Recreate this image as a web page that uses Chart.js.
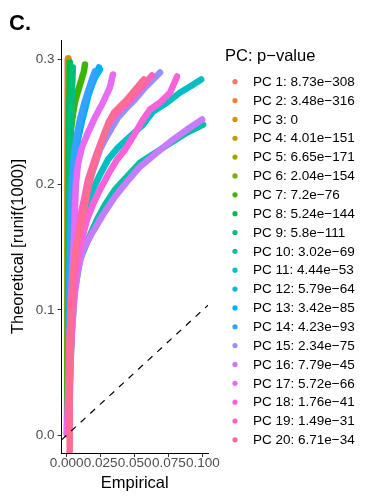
<!DOCTYPE html>
<html>
<head>
<meta charset="utf-8">
<script src="https://cdn.jsdelivr.net/npm/chart.js@4.4.1/dist/chart.umd.min.js"></script>
<style>
  html, body { margin: 0; padding: 0; background: #fff; }
  #wrap { width: 368px; height: 499px; }
</style>
</head>
<body>
<div id="wrap"><canvas id="qqChart" width="368" height="499"></canvas></div>
<script>
/* ================= DATA ================= */
const pcNames = ["PC 1", "PC 2", "PC 3", "PC 4", "PC 5", "PC 6", "PC 7", "PC 8", "PC 9", "PC 10",
  "PC 11", "PC 12", "PC 13", "PC 14", "PC 15", "PC 16", "PC 17", "PC 18", "PC 19", "PC 20"];
const pValues = ["8.73e\u2212308", "3.48e\u2212316", "0", "4.01e\u2212151", "6.65e\u2212171",
  "2.04e\u2212154", "7.2e\u221276", "5.24e\u2212144", "5.8e\u2212111", "3.02e\u221269",
  "4.44e\u221253", "5.79e\u221264", "3.42e\u221285", "4.23e\u221293", "2.34e\u221275",
  "7.79e\u221245", "5.72e\u221266", "1.76e\u221241", "1.49e\u221231", "6.71e\u221234"];

// empirical (x) and theoretical (y) quantiles, one row per PC
const empirical = [
  [0.0004, 0.0006, 0.0008, 0.0010],
  [0.0004, 0.0006, 0.0009, 0.0012],
  [0.0005, 0.0007, 0.0010, 0.0013],
  [0.0005, 0.0008, 0.0011, 0.0014],
  [0.0005, 0.0008, 0.0012, 0.0016],
  [0.0006, 0.0009, 0.0013, 0.0018],
  [0.0002, 0.0010, 0.0017, 0.0024, 0.0032, 0.0046, 0.0061, 0.0083, 0.0105, 0.0127, 0.0135],
  [0.0010, 0.0013, 0.0017, 0.0020, 0.0024],
  [0.0010, 0.0017, 0.0024, 0.0032, 0.0039, 0.0046],
  [0.0010, 0.0024, 0.0039, 0.0061, 0.0098, 0.0157, 0.0223, 0.0282, 0.0355, 0.0443, 0.0539, 0.0686, 0.0884, 0.1002],
  [0.0010, 0.0017, 0.0032, 0.0046, 0.0068, 0.0098, 0.0149, 0.0193, 0.0245, 0.0304, 0.0377, 0.0465, 0.0561, 0.0635, 0.0738, 0.0833, 0.0907, 0.0988],
  [0.0010, 0.0017, 0.0032, 0.0046, 0.0068, 0.0098, 0.0135, 0.0171, 0.0208, 0.0245],
  [0.0010, 0.0017, 0.0032, 0.0046, 0.0061, 0.0083, 0.0112, 0.0135, 0.0157, 0.0186, 0.0215, 0.0237],
  [0.0010, 0.0024, 0.0032, 0.0039, 0.0054, 0.0076, 0.0098, 0.0127, 0.0157, 0.0186, 0.0208],
  [0.0010, 0.0024, 0.0039, 0.0061, 0.0083, 0.0112, 0.0142, 0.0171, 0.0208, 0.0245, 0.0282, 0.0333, 0.0377, 0.0429, 0.0502, 0.0576, 0.0635, 0.0686],
  [0.0017, 0.0032, 0.0054, 0.0083, 0.0120, 0.0193, 0.0267, 0.0355, 0.0443, 0.0539, 0.0664, 0.0782, 0.0884, 0.0995],
  [0.0002, 0.0010, 0.0024, 0.0039, 0.0054, 0.0061, 0.0068, 0.0083, 0.0112, 0.0157, 0.0208, 0.0267, 0.0318, 0.0340],
  [0.0017, 0.0024, 0.0039, 0.0061, 0.0083, 0.0112, 0.0149, 0.0193, 0.0245, 0.0304, 0.0370, 0.0429, 0.0488, 0.0561, 0.0612, 0.0686, 0.0760, 0.0811],
  [0.0017, 0.0024, 0.0039, 0.0054, 0.0068, 0.0090, 0.0112, 0.0135, 0.0157, 0.0193, 0.0223, 0.0260, 0.0296, 0.0340, 0.0392, 0.0451, 0.0517, 0.0576, 0.0627],
  [0.0021, 0.0021, 0.0024, 0.0032, 0.0043, 0.0054, 0.0068, 0.0090, 0.0112, 0.0135, 0.0157, 0.0186, 0.0208, 0.0237, 0.0279, 0.0311, 0.0348, 0.0392, 0.0443, 0.0517, 0.0568]
];
const theoretical = [
  [0.001, 0.1, 0.2, 0.300],
  [0.001, 0.1, 0.2, 0.301],
  [0.001, 0.1, 0.2, 0.300],
  [0.001, 0.1, 0.2, 0.299],
  [0.001, 0.1, 0.2, 0.298],
  [0.001, 0.1, 0.2, 0.297],
  [0.001, 0.108, 0.188, 0.228, 0.244, 0.256, 0.2656, 0.2744, 0.2824, 0.2904, 0.296],
  [0.001, 0.108, 0.228, 0.268, 0.2976],
  [0.001, 0.148, 0.204, 0.252, 0.276, 0.2936],
  [0.001, 0.044, 0.084, 0.116, 0.14, 0.156, 0.172, 0.184, 0.196, 0.2064, 0.2176, 0.228, 0.2416, 0.248],
  [0.001, 0.044, 0.092, 0.124, 0.148, 0.168, 0.184, 0.196, 0.208, 0.22, 0.2296, 0.2384, 0.248, 0.2584, 0.2656, 0.2736, 0.2784, 0.284],
  [0.001, 0.108, 0.172, 0.204, 0.228, 0.248, 0.264, 0.276, 0.2856, 0.292],
  [0.001, 0.108, 0.164, 0.2, 0.22, 0.236, 0.2504, 0.26, 0.2704, 0.28, 0.288, 0.2936],
  [0.001, 0.124, 0.172, 0.204, 0.224, 0.24, 0.252, 0.264, 0.2744, 0.284, 0.2904],
  [0.001, 0.076, 0.116, 0.144, 0.164, 0.18, 0.192, 0.204, 0.216, 0.228, 0.236, 0.2456, 0.2536, 0.26, 0.268, 0.2776, 0.284, 0.2896],
  [0.001, 0.068, 0.108, 0.132, 0.148, 0.1624, 0.176, 0.1904, 0.2024, 0.2144, 0.2256, 0.236, 0.244, 0.252],
  [0.001, 0.028, 0.084, 0.124, 0.156, 0.18, 0.2, 0.216, 0.2296, 0.2416, 0.2536, 0.2656, 0.2776, 0.288],
  [0.001, 0.044, 0.092, 0.12, 0.14, 0.156, 0.172, 0.184, 0.196, 0.208, 0.22, 0.228, 0.2384, 0.252, 0.26, 0.2656, 0.2736, 0.2864],
  [0.001, 0.068, 0.108, 0.132, 0.148, 0.1656, 0.18, 0.192, 0.204, 0.216, 0.2256, 0.236, 0.2456, 0.2536, 0.26, 0.2656, 0.2736, 0.2808, 0.2872],
  [-0.013, 0.044, 0.076, 0.1, 0.12, 0.136, 0.148, 0.16, 0.172, 0.184, 0.196, 0.2096, 0.2176, 0.228, 0.2416, 0.2504, 0.2576, 0.2624, 0.268, 0.2776, 0.284]
];

const xTicks = [0, 0.025, 0.05, 0.075, 0.1];
const yTicks = [0, 0.1, 0.2, 0.3];
const xRange = [-0.0037, 0.1038];
const yRange = [-0.0142, 0.3155];

/* ================= COLORS ================= */
const pcColors = ["#F8766D", "#EA8331", "#D89000", "#C09B00", "#A3A500", "#7CAE00", "#39B600",
  "#00BB4E", "#00BF7D", "#00C1A3", "#00BFC4", "#00BAE0", "#00B0F6", "#35A2FF", "#9590FF",
  "#C77CFF", "#E76BF3", "#FA62DB", "#FF62BC", "#FF6C91"];

const FONT = "'Liberation Sans', Arial, Helvetica, sans-serif";

/* ================= LEGEND (drawn beside the panel, ggplot style) ================= */
const pcLegend = {
  id: "pcLegend",
  afterDraw(chart) {
    const ctx = chart.ctx;
    const left = chart.chartArea.right + 17;
    ctx.save();
    ctx.textAlign = "left";
    ctx.textBaseline = "middle";
    ctx.fillStyle = "#000";
    ctx.font = "16.5px " + FONT;
    ctx.fillText("PC: p\u2212value", left, 56);
    ctx.font = "13.5px " + FONT;
    pcNames.forEach((name, i) => {
      const y = 81.7 + i * 18.85;
      ctx.fillStyle = pcColors[i];
      ctx.beginPath();
      ctx.arc(left + 10, y, 2.6, 0, Math.PI * 2);
      ctx.fill();
      ctx.fillStyle = "#000";
      ctx.fillText(name + ": " + pValues[i], left + 28, y + 0.5);
    });
    ctx.restore();
  }
};

/* ================= BUILD DATASETS ================= */
const datasets = pcNames.map((name, i) => ({
  label: name + ": " + pValues[i],
  data: empirical[i].map((x, k) => ({ x: x, y: theoretical[i][k] })),
  showLine: true,
  borderColor: pcColors[i],
  backgroundColor: pcColors[i],
  borderWidth: 6.5,
  borderCapStyle: "round",
  borderJoinStyle: "round",
  pointRadius: 0,
  pointHoverRadius: 0,
  order: 20 - i
}));

// y = x reference line across the whole panel
datasets.push({
  label: "diag",
  data: [{ x: xRange[0], y: xRange[0] }, { x: xRange[1], y: xRange[1] }],
  showLine: true,
  borderColor: "#000",
  borderWidth: 1.2,
  borderDash: [6.5, 6.5],
  pointRadius: 0,
  order: -1
});

/* ================= CHART ================= */
new Chart(document.getElementById("qqChart"), {
  type: "scatter",
  data: { datasets },
  plugins: [pcLegend],
  options: {
    responsive: false,
    animation: false,
    layout: { padding: { left: 9, right: 160, top: 0, bottom: 2 } },
    plugins: {
      tooltip: { enabled: false },
      legend: { display: false },
      title: {
        display: true,
        text: "C.",
        align: "start",
        color: "#000",
        font: { family: FONT, size: 22, weight: "bold" },
        padding: { top: 11, bottom: 2.6 }
      }
    },
    scales: {
      x: {
        type: "linear",
        min: xRange[0],
        max: xRange[1],
        afterBuildTicks: s => { s.ticks = xTicks.map(v => ({ value: v })); },
        grid: { drawOnChartArea: false, drawTicks: true, tickLength: 4, color: "#333" },
        border: { display: true, color: "#000", width: 1 },
        ticks: {
          autoSkip: false,
          maxRotation: 0,
          minRotation: 0,
          padding: 0,
          color: "#4D4D4D",
          font: { family: FONT, size: 13.5, lineHeight: 1 },
          callback: v => v.toFixed(3)
        },
        title: {
          display: true,
          text: "Empirical",
          color: "#000",
          font: { family: FONT, size: 16.5 },
          padding: { top: 2.7, bottom: 4 }
        }
      },
      y: {
        type: "linear",
        min: yRange[0],
        max: yRange[1],
        afterBuildTicks: s => { s.ticks = yTicks.map(v => ({ value: v })); },
        grid: { drawOnChartArea: false, drawTicks: true, tickLength: 4, color: "#333" },
        border: { display: true, color: "#000", width: 1 },
        ticks: {
          padding: 3,
          color: "#4D4D4D",
          font: { family: FONT, size: 13.5 },
          callback: v => v.toFixed(1)
        },
        title: {
          display: true,
          text: "Theoretical [runif(1000)]",
          color: "#000",
          font: { family: FONT, size: 16.5 },
          padding: { top: 0, bottom: 4 }
        }
      }
    }
  }
});
</script>
</body>
</html>
